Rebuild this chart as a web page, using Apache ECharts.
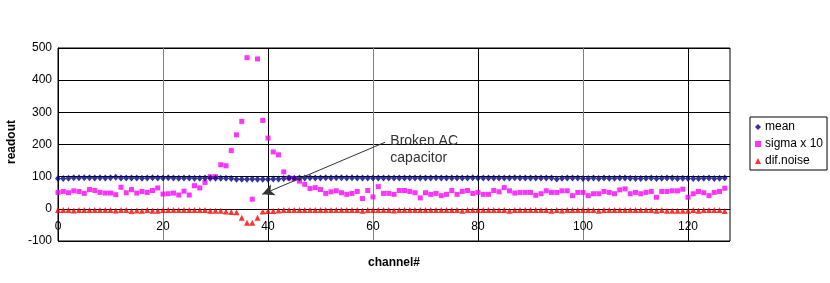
<!DOCTYPE html>
<html>
<head>
<meta charset="utf-8">
<script src="https://cdn.jsdelivr.net/npm/echarts@6/dist/echarts.min.js"></script>
<style>html,body{margin:0;padding:0;background:#fff}#c{width:830px;height:283px}</style>
</head>
<body>
<div id="c"></div>
<script>
var channels = Array.from({length:128}, function(_, i){ return i; });
var mean = [
94,94,95,97,97,97,97,96,97,96,
97,98,96,96,96,96,95,96,97,96,
96,97,96,95,96,96,95,95,96,95,
95,95,95,94,92,92,92,93,92,92,
92,93,93,94,96,95,96,96,97,96,
96,97,96,97,97,96,97,96,96,96,
96,96,96,96,96,96,96,96,96,96,
96,96,97,96,96,96,96,96,96,97,
96,96,96,96,96,96,96,97,96,96,
96,96,96,96,96,93,95,96,96,96,
94,94,96,94,96,95,95,96,96,95,
94,94,95,96,94,95,96,96,94,95,
94,94,94,95,96,94,95,96];
var sigmaX10 = [
51,54,50,56,54,48,60,57,51,49,
49,44,67,50,60,49,54,51,57,65,
46,47,49,43,55,43,72,65,82,100,
100,137,134,181,230,272,470,30,466,275,
220,177,168,115,96,94,86,76,63,66,
60,48,53,56,50,45,48,54,32,57,
37,69,48,48,45,57,57,54,50,34,
50,45,48,41,45,57,45,54,57,48,
51,45,45,57,53,66,56,49,51,51,
51,42,47,56,51,51,56,56,41,51,
51,41,47,47,54,51,47,59,62,47,
51,47,51,54,36,54,54,56,56,61,
36,47,54,50,41,51,54,64];
var difNoise = [
-4,-4,-4,-5,-4,-4,-4,-4,-4,-4,
-4,-5,-4,-4,-7,-5,-6,-4,-6,-6,
-4,-4,-4,-4,-4,-4,-4,-4,-4,-6,
-6,-6,-8,-10,-11,-28,-43,-43,-28,-8,
-7,-7,-5,-4,-4,-4,-4,-4,-4,-4,
-4,-4,-4,-4,-4,-4,-4,-4,-6,-4,
-4,-4,-4,-4,-5,-4,-4,-4,-4,-4,
-4,-4,-4,-4,-4,-4,-4,-6,-4,-4,
-4,-4,-4,-4,-4,-4,-6,-4,-4,-4,
-4,-4,-4,-4,-6,-4,-5,-4,-4,-4,
-4,-4,-4,-6,-4,-4,-4,-4,-4,-4,
-4,-4,-4,-4,-6,-4,-6,-6,-6,-6,
-6,-4,-6,-4,-4,-4,-4,-7];
var seriesNames = ['mean','sigma x 10','dif.noise'];
var xTicks = [0,20,40,60,80,100,120];
var yTicks = [-100,0,100,200,300,400,500];
var annotationLines = ['Broken AC','capacitor'];
var arrowFrom = [62.3, 207];
var arrowTo = [38.9, 45];
var textAt = [63.3, 238];

function pairs(arr){ return arr.map(function(v,i){ return [channels[i], v]; }); }

var FONT = '"Liberation Sans", Arial, sans-serif';
var chart = echarts.init(document.getElementById('c'));
var GRID = {left:58, right:100, top:48, bottom:42};
var plotH = 283 - GRID.top - GRID.bottom;
var zeroOffset = -(plotH * (0 - yTicks[0]) / (yTicks[yTicks.length-1] - yTicks[0]));
chart.setOption({
  animation:false,
  backgroundColor:'#fff',
  grid:{left:GRID.left, right:GRID.right, top:GRID.top, bottom:GRID.bottom, show:true, borderColor:'#000', borderWidth:1, containLabel:false},
  legend:{
    orient:'vertical', left:750, top:117,
    padding:[4,4,3,5], itemGap:5, itemWidth:6, itemHeight:6,
    borderColor:'#000', borderWidth:1, backgroundColor:'#fff',
    textStyle:{fontFamily:FONT, fontSize:12, color:'#000', padding:[0,0,0,-1]},
    data:seriesNames
  },
  xAxis:{
    type:'value', min:0, max:128, interval:20, offset:zeroOffset,
    axisLine:{onZero:false, lineStyle:{color:'#000', width:1}},
    axisTick:{show:false},
    axisLabel:{fontFamily:FONT, fontSize:12, color:'#000', margin:12, showMaxLabel:false,
      formatter:function(v){ return xTicks.indexOf(v) >= 0 ? String(v) : ''; }},
    splitLine:{show:true, lineStyle:{color:['#000','#808080'], width:1}}
  },
  yAxis:{
    type:'value', min:-100, max:500, interval:100,
    axisLine:{show:true, lineStyle:{color:'#000'}},
    axisTick:{show:false},
    axisLabel:{fontFamily:FONT, fontSize:12, color:'#000', margin:6,
      formatter:function(v){ return yTicks.indexOf(v) >= 0 ? String(v) : ''; }},
    splitLine:{show:true, lineStyle:{color:'#000', width:1}}
  },
  series:[
    {name:seriesNames[0], type:'scatter', symbol:'diamond', symbolSize:[6,7],
     itemStyle:{color:'#000080'}, data:pairs(mean), z:3},
    {name:seriesNames[1], type:'scatter', symbol:'rect', symbolSize:5,
     itemStyle:{color:'#ff00ff'}, data:pairs(sigmaX10), z:2,
     markLine:{silent:true, symbol:['none','arrow'], symbolSize:[9,12],
       lineStyle:{color:'#333', width:1, type:'solid'}, label:{show:false},
       data:[[{coord:arrowFrom},{coord:arrowTo}]]}
    },
    {name:seriesNames[2], type:'scatter', symbol:'triangle', symbolSize:6,
     itemStyle:{color:'#ff0000'}, data:pairs(difNoise), z:4}
  ]
});
var tp = chart.convertToPixel({gridIndex:0}, textAt);
chart.setOption({
  graphic:[
    {type:'text', x:12, y:142, rotation:Math.PI/2,
     style:{text:'readout', font:'bold 12px '+FONT, fill:'#000', textAlign:'center', textVerticalAlign:'middle'}},
    {type:'text', x:394, y:263,
     style:{text:'channel#', font:'bold 12px '+FONT, fill:'#000', textAlign:'center', textVerticalAlign:'middle'}},
    {type:'text', x:tp[0], y:tp[1],
     style:{text:annotationLines.join('\n'), font:'14px '+FONT, fill:'#333', lineHeight:17, textAlign:'left', textVerticalAlign:'top'}}
  ]
});
</script>
</body>
</html>
